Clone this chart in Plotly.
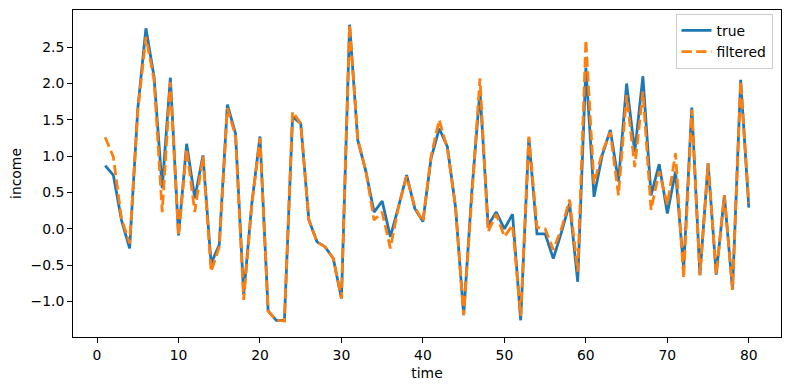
import plotly.graph_objects as go

time = list(range(1, 81))
true_vals = [0.87, 0.74, 0.12, -0.27, 1.65, 2.76, 2.09, 0.56, 2.08, -0.09,
             1.17, 0.42, 1.01, -0.48, -0.22, 1.71, 1.31, -0.91, 0.35, 1.27,
             -1.13, -1.26, -1.26, 1.54, 1.45, 0.12, -0.18, -0.25, -0.41, -0.96,
             2.81, 1.22, 0.79, 0.23, 0.38, -0.11, 0.30, 0.74, 0.28, 0.10,
             0.97, 1.38, 1.13, 0.30, -1.19, 0.51, 1.90, 0.05, 0.23, 0.00,
             0.20, -1.26, 1.25, -0.07, -0.07, -0.41, -0.05, 0.35, -0.73, 2.22,
             0.44, 1.01, 1.36, 0.65, 2.00, 1.06, 2.10, 0.46, 0.89, 0.21,
             0.79, -0.55, 1.67, -0.64, 0.90, -0.63, 0.46, -0.84, 2.05, 0.29]
filtered_vals = [1.26, 0.99, 0.14, -0.20, 1.62, 2.64, 2.05, 0.23, 2.02, -0.10,
                 1.10, 0.23, 1.00, -0.59, -0.25, 1.66, 1.28, -0.98, 0.33, 1.25,
                 -1.13, -1.26, -1.27, 1.61, 1.45, 0.12, -0.18, -0.25, -0.41, -0.96,
                 2.81, 1.24, 0.79, 0.12, 0.23, -0.27, 0.30, 0.72, 0.30, 0.10,
                 1.00, 1.50, 1.10, 0.30, -1.19, 0.51, 2.07, -0.04, 0.20, -0.11,
                 0.05, -1.20, 1.27, 0.02, 0.00, -0.29, 0.00, 0.40, -0.59, 2.60,
                 0.62, 1.05, 1.33, 0.46, 1.84, 0.85, 1.89, 0.26, 0.79, 0.33,
                 1.04, -0.68, 1.64, -0.64, 0.90, -0.63, 0.46, -0.84, 2.03, 0.35]
x_ticks = [0, 10, 20, 30, 40, 50, 60, 70, 80]
y_ticks = [-1.0, -0.5, 0.0, 0.5, 1.0, 1.5, 2.0, 2.5]

fig = go.Figure()
fig.add_trace(go.Scatter(x=time, y=true_vals, mode="lines", name="true",
                         line=dict(color="#1f77b4", width=2.78)))
fig.add_trace(go.Scatter(x=time, y=filtered_vals, mode="lines", name="filtered",
                         line=dict(color="#ff7f0e", width=2.78, dash="10.3px,4.4px")))

font = dict(family="DejaVu Sans", size=13.9, color="black")
axis_common = dict(showline=True, linecolor="black", linewidth=1.1, mirror=True,
                   ticks="outside", ticklen=4.9, tickwidth=1.1, tickcolor="black",
                   showgrid=False, zeroline=False, tickfont=font)

# page body has an 8px default margin; compensate so the plot lands where the reference has it
fig.update_layout(
    width=782, height=382,
    margin=dict(l=65, r=9, t=2, b=53),
    paper_bgcolor="white", plot_bgcolor="white",
    font=font,
    showlegend=True,
    legend=dict(x=0.988, y=0.988, xanchor="right", yanchor="top",
                bgcolor="rgba(255,255,255,0.8)", bordercolor="#cccccc", borderwidth=1,
                font=font, tracegroupgap=0, itemwidth=30),
    xaxis=dict(range=[-2.95, 83.95], tickvals=x_ticks, ticktext=[str(v) for v in x_ticks],
               title=dict(text="time", font=font, standoff=6), **axis_common),
    yaxis=dict(range=[-1.49, 3.012], tickvals=y_ticks,
               ticktext=[("\u2212" if v < 0 else "") + f"{abs(v):.1f}" for v in y_ticks],
               title=dict(text="income", font=font, standoff=5), **axis_common),
)

fig.write_html("out.html")
